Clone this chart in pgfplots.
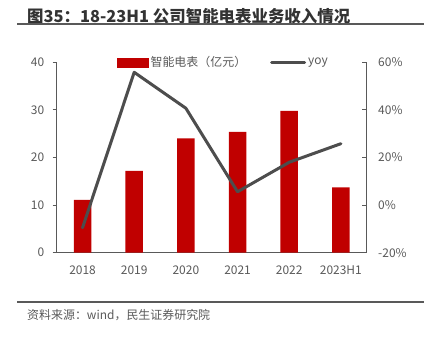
\documentclass[border=0pt]{standalone}
\usepackage{pgfplots}
\pgfplotsset{compat=1.18}
\usepackage{fontspec}
\setmainfont{Noto Sans CJK SC}
\definecolor{barred}{HTML}{C00000}
\definecolor{linegray}{HTML}{4D4D4D}
\definecolor{axgray}{HTML}{595959}
\begin{document}
\begin{tikzpicture}[x=1bp,y=1bp]
\path[use as bounding box] (0,0) rectangle (437,336);
\node[anchor=west, inner sep=0pt, font=\fontsize{16.5}{19}\selectfont\bfseries, text=black!80] at (27,320) {图35：18-23H1 公司智能电表业务收入情况};
\draw[axgray, line width=1.2bp] (17,312) -- (424,312);
\draw[axgray, line width=1.2bp] (17,34) -- (424,34);
\node[anchor=west, inner sep=0pt, font=\fontsize{12}{14}\selectfont, text=axgray] at (27,21) {资料来源：wind，民生证券研究院};
\begin{axis}[
  at={(56.7bp,83.3bp)}, anchor=south west,
  scale only axis, width=310bp, height=190.4bp,
  xmin=-0.5, xmax=5.5, ymin=0, ymax=40,
  ytick={0,10,20,30,40},
  xtick={0,1,2,3,4,5},
  xticklabels={2018,2019,2020,2021,2022,2023H1},
  axis y line*=left, axis x line*=bottom,
  axis line style={-, axgray, line width=0.9bp},
  tick align=outside, major tick length=4bp,
  xtick style={draw=none},
  ytick style={axgray, line width=0.9bp},
  tick label style={font=\fontsize{12}{14}\selectfont, text=axgray},
  yticklabel style={xshift=-5bp},
  xticklabel style={yshift=-6bp},
  /pgf/number format/assume math mode=true,
]
\addplot[ybar, bar width=17.5bp, fill=barred, draw=none] coordinates {(0,11.1) (1,17.2) (2,24.0) (3,25.4) (4,29.8) (5,13.7)};
\end{axis}
\begin{axis}[
  at={(56.7bp,83.3bp)}, anchor=south west,
  scale only axis, width=310bp, height=190.4bp,
  xmin=-0.5, xmax=5.5, ymin=-20, ymax=60,
  ytick={-20,0,20,40,60},
  yticklabel={\pgfmathprintnumber{\tick}\%},
  axis y line*=right, axis x line=none,
  axis line style={-, axgray, line width=0.9bp},
  tick align=inside, major tick length=4.5bp,
  ytick style={axgray, line width=0.9bp},
  tick label style={font=\fontsize{12}{14}\selectfont, text=axgray},
  yticklabel style={xshift=8bp},
  /pgf/number format/assume math mode=true,
  legend columns=2,
  legend style={draw=none, fill=none, at={(0.538,1.0)}, anchor=center,
    font=\fontsize{12}{14}\selectfont, text=axgray,
    /tikz/every even column/.append style={column sep=22bp}},
]
\addlegendimage{legend image code/.code={\fill[barred] (0bp,-4.5bp) rectangle (31bp,4.5bp);}}
\addlegendentry{智能电表（亿元）}
\addplot[linegray, line width=3bp, line join=round, line cap=round,
  legend image code/.code={\draw[linegray, line width=3bp, line cap=round] (0bp,0bp) -- (33bp,0bp);}]
  coordinates {(0,-9.5) (1,55.8) (2,40.7) (3,5.6) (4,18.0) (5,25.8)};
\addlegendentry{yoy}
\end{axis}
\end{tikzpicture}
\end{document}
